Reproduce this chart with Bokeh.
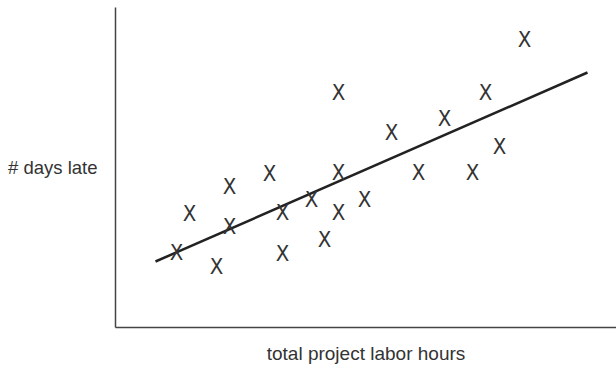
from bokeh.plotting import figure
from bokeh.models import Range1d, FixedTicker, ColumnDataSource
from bokeh.core.properties import value
from bokeh.embed import file_html
from bokeh.resources import INLINE

# data: labor hours vs days late (arbitrary units)
labor_hours = [61, 74, 101, 114, 114, 154, 167, 167, 196, 209, 223, 223, 223,
               249, 276, 303, 329, 357, 370, 384, 409]
days_late = [7.5, 11.4, 6.1, 14.1, 10.1, 15.4, 11.5, 7.4, 12.8, 8.8, 23.5, 15.5,
             11.5, 12.8, 19.5, 15.5, 20.9, 15.5, 23.5, 18.1, 28.8]
trend_x = [40, 472]
trend_y = [6.6, 25.5]
x_label = "total project labor hours"
y_label = "# days late"

p = figure(width=616, height=368, output_backend="svg", toolbar_location=None,
           x_range=Range1d(0, 501), y_range=Range1d(0, 32),
           min_border_left=115, min_border_right=0, min_border_top=7,
           min_border_bottom=41)
p.outline_line_color = None
p.grid.visible = False
p.background_fill_color = "white"
p.border_fill_color = "white"

for ax in (p.xaxis[0], p.yaxis[0]):
    ax.ticker = FixedTicker(ticks=[])
    ax.major_tick_line_color = None
    ax.minor_tick_line_color = None
    ax.major_tick_out = 0
    ax.major_tick_in = 0
    ax.minor_tick_out = 0
    ax.major_label_text_font_size = "0px"
    ax.axis_line_color = "#444444"
    ax.axis_line_width = 1.5
    ax.axis_label_text_font = "Liberation Sans"
    ax.axis_label_text_font_style = "normal"
    ax.axis_label_text_color = "#333333"

p.xaxis.axis_label = x_label
p.xaxis.axis_label_text_font_size = "19px"
p.xaxis.axis_label_standoff = 15

p.yaxis.axis_label = y_label
p.yaxis.axis_label_text_font_size = "18.5px"
p.yaxis.axis_label_orientation = "horizontal"
p.yaxis.axis_label_standoff = 18

p.line(trend_x, trend_y, line_color="#222222", line_width=2.5)

src = ColumnDataSource(dict(x=labor_hours, y=days_late, t=["X"] * len(labor_hours)))
p.text(x="x", y="y", text="t", source=src, text_align="center", text_baseline="middle",
       text_font=value("Liberation Sans Narrow, DejaVu Sans Condensed, sans-serif"),
       text_font_size="22px", text_color="#333333")

open("out.html", "w").write(file_html(p, INLINE))
